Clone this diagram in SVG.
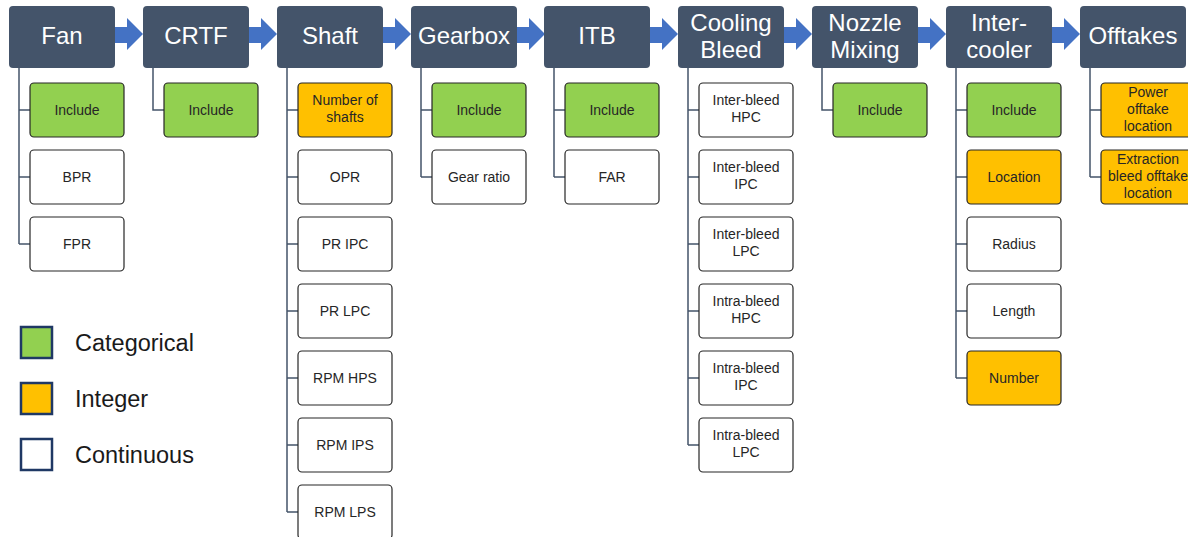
<svg xmlns="http://www.w3.org/2000/svg" width="1188" height="537" viewBox="0 0 1188 537">
<style>
.hdr{fill:#44546A}
.ht{font-family:"Liberation Sans",Arial,sans-serif;font-size:24px;fill:#ffffff;text-anchor:middle}
.c{stroke:#262626;stroke-width:1.2}
.g{fill:#92D050}
.o{fill:#FFC000}
.w{fill:#ffffff}
.ct{font-family:"Liberation Sans",Arial,sans-serif;font-size:14px;fill:#262626;text-anchor:middle}
.ln{fill:none;stroke:#44546A;stroke-width:1.5}
.arr{fill:#4472C4}
.lg{stroke:#1F3864;stroke-width:2.5}
.lt{font-family:"Liberation Sans",Arial,sans-serif;font-size:23.5px;fill:#1a1a1a}
</style>
<defs>
<polygon id="arrow" points="0,27 12,27 12,18 28,34 12,50 12,43 0,43"/>
</defs>
<g id="connectors">
<use href="#arrow" class="arr" x="115" y="0"/>
<use href="#arrow" class="arr" x="249" y="0"/>
<use href="#arrow" class="arr" x="383" y="0"/>
<use href="#arrow" class="arr" x="517" y="0"/>
<use href="#arrow" class="arr" x="650" y="0"/>
<use href="#arrow" class="arr" x="784" y="0"/>
<use href="#arrow" class="arr" x="918" y="0"/>
<use href="#arrow" class="arr" x="1052" y="0"/>
<path class="ln" d="M19,68V244M19,110H30M19,177H30M19,244H30"/>
<path class="ln" d="M153,68V110H164"/>
<path class="ln" d="M287,68V512M287,110H298M287,177H298M287,244H298M287,311H298M287,378H298M287,445H298M287,512H298"/>
<path class="ln" d="M421,68V177M421,110H432M421,177H432"/>
<path class="ln" d="M554,68V177M554,110H565M554,177H565"/>
<path class="ln" d="M688,68V445M688,110H699M688,177H699M688,244H699M688,311H699M688,378H699M688,445H699"/>
<path class="ln" d="M822,68V110H833"/>
<path class="ln" d="M956,68V378M956,110H967M956,177H967M956,244H967M956,311H967M956,378H967"/>
<path class="ln" d="M1090,68V177M1090,110H1101M1090,177H1101"/>
</g>
<g id="fan">
<rect class="hdr" x="9" y="6" width="106" height="62" rx="4"/>
<text class="ht" x="62" y="44">Fan</text>
<rect class="c g" x="30" y="83" width="94" height="54" rx="4"/><text class="ct" x="77" y="115">Include</text>
<rect class="c w" x="30" y="150" width="94" height="54" rx="4"/><text class="ct" x="77" y="182">BPR</text>
<rect class="c w" x="30" y="217" width="94" height="54" rx="4"/><text class="ct" x="77" y="249">FPR</text>
</g>
<g id="crtf">
<rect class="hdr" x="143" y="6" width="106" height="62" rx="4"/>
<text class="ht" x="196" y="44">CRTF</text>
<rect class="c g" x="164" y="83" width="94" height="54" rx="4"/><text class="ct" x="211" y="115">Include</text>
</g>
<g id="shaft">
<rect class="hdr" x="277" y="6" width="106" height="62" rx="4"/>
<text class="ht" x="330" y="44">Shaft</text>
<rect class="c o" x="298" y="83" width="94" height="54" rx="4"/><text class="ct" x="345" y="105">Number of</text><text class="ct" x="345" y="122">shafts</text>
<rect class="c w" x="298" y="150" width="94" height="54" rx="4"/><text class="ct" x="345" y="182">OPR</text>
<rect class="c w" x="298" y="217" width="94" height="54" rx="4"/><text class="ct" x="345" y="249">PR IPC</text>
<rect class="c w" x="298" y="284" width="94" height="54" rx="4"/><text class="ct" x="345" y="316">PR LPC</text>
<rect class="c w" x="298" y="351" width="94" height="54" rx="4"/><text class="ct" x="345" y="383">RPM HPS</text>
<rect class="c w" x="298" y="418" width="94" height="54" rx="4"/><text class="ct" x="345" y="450">RPM IPS</text>
<rect class="c w" x="298" y="485" width="94" height="54" rx="4"/><text class="ct" x="345" y="517">RPM LPS</text>
</g>
<g id="gearbox">
<rect class="hdr" x="411" y="6" width="106" height="62" rx="4"/>
<text class="ht" x="464" y="44">Gearbox</text>
<rect class="c g" x="432" y="83" width="94" height="54" rx="4"/><text class="ct" x="479" y="115">Include</text>
<rect class="c w" x="432" y="150" width="94" height="54" rx="4"/><text class="ct" x="479" y="182">Gear ratio</text>
</g>
<g id="itb">
<rect class="hdr" x="544" y="6" width="106" height="62" rx="4"/>
<text class="ht" x="597" y="44">ITB</text>
<rect class="c g" x="565" y="83" width="94" height="54" rx="4"/><text class="ct" x="612" y="115">Include</text>
<rect class="c w" x="565" y="150" width="94" height="54" rx="4"/><text class="ct" x="612" y="182">FAR</text>
</g>
<g id="cooling-bleed">
<rect class="hdr" x="678" y="6" width="106" height="62" rx="4"/>
<text class="ht" x="731" y="31">Cooling</text><text class="ht" x="731" y="58">Bleed</text>
<rect class="c w" x="699" y="83" width="94" height="54" rx="4"/><text class="ct" x="746" y="105">Inter-bleed</text><text class="ct" x="746" y="122">HPC</text>
<rect class="c w" x="699" y="150" width="94" height="54" rx="4"/><text class="ct" x="746" y="172">Inter-bleed</text><text class="ct" x="746" y="189">IPC</text>
<rect class="c w" x="699" y="217" width="94" height="54" rx="4"/><text class="ct" x="746" y="239">Inter-bleed</text><text class="ct" x="746" y="256">LPC</text>
<rect class="c w" x="699" y="284" width="94" height="54" rx="4"/><text class="ct" x="746" y="306">Intra-bleed</text><text class="ct" x="746" y="323">HPC</text>
<rect class="c w" x="699" y="351" width="94" height="54" rx="4"/><text class="ct" x="746" y="373">Intra-bleed</text><text class="ct" x="746" y="390">IPC</text>
<rect class="c w" x="699" y="418" width="94" height="54" rx="4"/><text class="ct" x="746" y="440">Intra-bleed</text><text class="ct" x="746" y="457">LPC</text>
</g>
<g id="nozzle-mixing">
<rect class="hdr" x="812" y="6" width="106" height="62" rx="4"/>
<text class="ht" x="865" y="31">Nozzle</text><text class="ht" x="865" y="58">Mixing</text>
<rect class="c g" x="833" y="83" width="94" height="54" rx="4"/><text class="ct" x="880" y="115">Include</text>
</g>
<g id="intercooler">
<rect class="hdr" x="946" y="6" width="106" height="62" rx="4"/>
<text class="ht" x="999" y="31">Inter-</text><text class="ht" x="999" y="58">cooler</text>
<rect class="c g" x="967" y="83" width="94" height="54" rx="4"/><text class="ct" x="1014" y="115">Include</text>
<rect class="c o" x="967" y="150" width="94" height="54" rx="4"/><text class="ct" x="1014" y="182">Location</text>
<rect class="c w" x="967" y="217" width="94" height="54" rx="4"/><text class="ct" x="1014" y="249">Radius</text>
<rect class="c w" x="967" y="284" width="94" height="54" rx="4"/><text class="ct" x="1014" y="316">Length</text>
<rect class="c o" x="967" y="351" width="94" height="54" rx="4"/><text class="ct" x="1014" y="383">Number</text>
</g>
<g id="offtakes">
<rect class="hdr" x="1080" y="6" width="106" height="62" rx="4"/>
<text class="ht" x="1133" y="44">Offtakes</text>
<rect class="c o" x="1101" y="83" width="94" height="54" rx="4"/><text class="ct" x="1148" y="97">Power</text><text class="ct" x="1148" y="114">offtake</text><text class="ct" x="1148" y="131">location</text>
<rect class="c o" x="1101" y="150" width="94" height="54" rx="4"/><text class="ct" x="1148" y="164">Extraction</text><text class="ct" x="1148" y="181">bleed offtake</text><text class="ct" x="1148" y="198">location</text>
</g>
<g id="legend">
<rect class="lg" x="21" y="327" width="31" height="31" fill="#92D050"/>
<text class="lt" x="75" y="351">Categorical</text>
<rect class="lg" x="21" y="383" width="31" height="31" fill="#FFC000"/>
<text class="lt" x="75" y="407">Integer</text>
<rect class="lg" x="21" y="439" width="31" height="31" fill="#ffffff"/>
<text class="lt" x="75" y="463">Continuous</text>
</g>
</svg>
